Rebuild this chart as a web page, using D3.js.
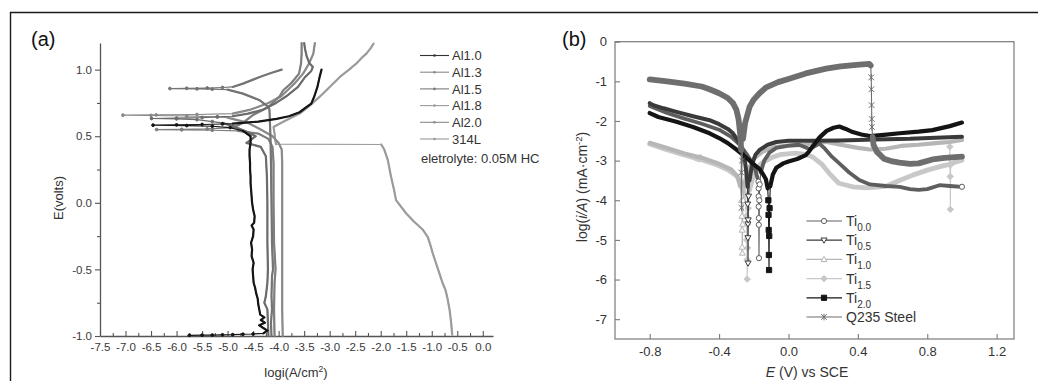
<!DOCTYPE html>
<html>
<head>
<meta charset="utf-8">
<script src="https://cdn.jsdelivr.net/npm/d3@7"></script>
<style>
  html, body { margin: 0; padding: 0; background: #fff; }
  svg { display: block; font-family: "Liberation Sans", Arial, sans-serif; }
</style>
</head>
<body>
<svg id="fig" width="1038" height="381"></svg>
<script>
// Every sweep below is split into runs that alternate: a dense measured run (even index),
// then a sparse excursion (odd index) such as a current spike, a jump or the dip at Ecorr.

// ===================== Panel (a): Al alloys and 314L in 0.05M HCl =====================
// Points are [E (V), log i (A/cm^2)], E increasing.
const aNames = ["Al1.0", "Al1.3", "Al1.5", "Al1.8", "Al2.0", "314L"];
const aXTicks = [-7.5, -7.0, -6.5, -6.0, -5.5, -5.0, -4.5, -4.0, -3.5, -3.0, -2.5, -2.0, -1.5, -1.0, -0.5, 0.0];
const aYTicks = [-1.0, -0.5, 0.0, 0.5, 1.0];
const aNote = "eletrolyte: 0.05M HC";

const al10Foot = [[-0.995, -5.75], [-0.994, -5.5], [-0.993, -5.3], [-0.991, -5.1], [-0.99, -4.9], [-0.987, -4.7], [-0.985, -4.5]];
const al10Passive = [
  [-0.98, -4.3], [-0.96, -4.22], [-0.94, -4.3], [-0.92, -4.38], [-0.9, -4.27], [-0.88, -4.35], [-0.86, -4.28],
  [-0.84, -4.36], [-0.8, -4.38], [-0.76, -4.4], [-0.72, -4.41], [-0.68, -4.44], [-0.64, -4.46], [-0.6, -4.49],
  [-0.55, -4.5], [-0.5, -4.51], [-0.45, -4.49], [-0.4, -4.53], [-0.35, -4.52], [-0.3, -4.54], [-0.25, -4.5],
  [-0.2, -4.49], [-0.17, -4.53], [-0.15, -4.48], [-0.1, -4.47], [-0.05, -4.5], [0.0, -4.52], [0.05, -4.53],
  [0.1, -4.54], [0.15, -4.55], [0.2, -4.55], [0.25, -4.56], [0.3, -4.56], [0.35, -4.57], [0.4, -4.57],
  [0.45, -4.55], [0.5, -4.55], [0.54, -4.7]
];
const al10Spike = [[0.565, -4.95], [0.575, -5.3], [0.58, -5.8], [0.583, -6.46], [0.585, -6.0], [0.588, -5.5], [0.592, -5.1]];
const al10Upper = [
  [0.595, -4.9], [0.61, -4.4], [0.63, -4.04], [0.65, -3.8], [0.68, -3.59], [0.72, -3.45], [0.745, -3.36],
  [0.8, -3.3], [0.87, -3.24], [0.94, -3.2], [1.0, -3.16]
];

const al13Passive = [
  [-1.0, -4.2], [-0.9, -4.21], [-0.8, -4.22], [-0.75, -4.28], [-0.7, -4.25], [-0.6, -4.22], [-0.5, -4.21],
  [-0.3, -4.22], [0.0, -4.22], [0.2, -4.23], [0.35, -4.25], [0.42, -4.35], [0.45, -4.63], [0.47, -4.55],
  [0.5, -4.45], [0.53, -4.6], [0.57, -4.85], [0.6, -5.1]
];
const al13Spike = [[0.61, -5.3], [0.625, -5.6], [0.63, -6.0], [0.633, -6.49], [0.636, -6.0], [0.64, -5.5], [0.645, -5.2]];
const al13Upper = [
  [0.65, -4.9], [0.67, -4.6], [0.7, -4.3], [0.75, -4.05], [0.8, -3.85], [0.87, -3.62], [0.945, -3.48],
  [0.99, -3.36], [1.02, -3.33], [1.05, -3.4], [1.1, -3.45], [1.15, -3.48], [1.2, -3.5]
];

const al15Passive = [
  [-1.0, -4.14], [-0.9, -4.15], [-0.8, -4.13], [-0.7, -4.14], [-0.55, -4.13], [-0.5, -4.11], [-0.3, -4.13],
  [0.0, -4.14], [0.3, -4.15], [0.5, -4.16], [0.6, -4.17], [0.7, -4.18], [0.72, -4.2], [0.77, -4.37],
  [0.82, -4.7], [0.85, -5.0]
];
const al15Spike = [[0.853, -5.3], [0.856, -5.6], [0.858, -6.13], [0.86, -5.8], [0.862, -5.4], [0.866, -5.1]];
const al15Upper = [[0.87, -4.9], [0.895, -4.7], [0.945, -4.37], [0.975, -4.15], [1.0, -3.94]];

const al18Passive = [
  [-1.0, -4.08], [-0.8, -4.09], [-0.6, -4.08], [-0.5, -4.06], [-0.3, -4.09], [0.0, -4.1], [0.3, -4.1],
  [0.42, -4.12], [0.48, -4.2], [0.52, -4.4], [0.54, -4.8]
];
const al18Spike = [[0.545, -5.3], [0.548, -5.9], [0.55, -6.39], [0.552, -5.9], [0.555, -5.4]];
const al18Upper = [
  [0.565, -4.9], [0.6, -4.7], [0.66, -4.5], [0.72, -4.2], [0.8, -3.98], [0.845, -3.91], [0.9, -3.75],
  [0.97, -3.6], [1.05, -3.56], [1.12, -3.55], [1.2, -3.55]
];

const al20Passive = [
  [-1.0, -3.92], [-0.8, -3.93], [-0.5, -3.93], [0.0, -3.93], [0.3, -3.93], [0.4, -3.94], [0.45, -4.0],
  [0.5, -4.12], [0.55, -4.35], [0.6, -4.6], [0.64, -5.0]
];
const al20Spike = [[0.645, -5.2], [0.652, -5.8], [0.656, -6.5], [0.658, -7.05], [0.66, -6.4], [0.663, -5.6]];
const al20Upper = [
  [0.67, -4.9], [0.7, -4.55], [0.75, -4.2], [0.8, -3.95], [0.9, -3.68], [0.97, -3.52], [1.05, -3.4],
  [1.12, -3.32], [1.2, -3.29]
];

const ss314Active = [
  [-0.99, -0.6], [-0.9, -0.62], [-0.805, -0.65], [-0.72, -0.69], [-0.655, -0.73], [-0.6, -0.79],
  [-0.53, -0.85], [-0.45, -0.92], [-0.38, -0.98], [-0.3, -1.04], [-0.255, -1.08], [-0.2, -1.18],
  [-0.14, -1.35], [-0.08, -1.5], [0.02, -1.7], [0.1, -1.74], [0.2, -1.8], [0.32, -1.86], [0.4, -1.93],
  [0.438, -1.99]
];
const ss314Jump = [];
const ss314Upper = [
  [0.44, -4.05], [0.48, -4.07], [0.52, -4.08], [0.57, -4.1], [0.61, -3.9], [0.67, -3.59], [0.72, -3.42],
  [0.795, -3.2], [0.87, -3.0], [0.945, -2.8], [1.0, -2.62], [1.045, -2.48], [1.09, -2.37], [1.12, -2.28],
  [1.16, -2.2], [1.196, -2.14]
];

// ===================== Panel (b): Ti additions vs Q235 steel =====================
// Points are [E (V vs SCE), log(i/A)].
const bXTicks = [-0.8, -0.4, 0.0, 0.4, 0.8, 1.2];
const bYTicks = [0, -1, -2, -3, -4, -5, -6, -7];

const ti00Cathodic = [[-0.8, -1.62], [-0.75, -1.71], [-0.7, -1.8], [-0.6, -1.94], [-0.5, -2.07], [-0.4, -2.22],
  [-0.33, -2.4], [-0.28, -2.6], [-0.24, -2.84], [-0.21, -3.05], [-0.19, -3.25], [-0.178, -3.45]];
const ti00Dip = [[-0.173, -3.53], [-0.172, -3.7], [-0.172, -3.9], [-0.172, -4.16], [-0.171, -4.45],
  [-0.171, -4.62], [-0.17, -5.46], [-0.168, -4.0], [-0.166, -3.6]];
const ti00Anodic = [[-0.16, -3.3], [-0.14, -3.0], [-0.11, -2.8], [-0.07, -2.68], [0.0, -2.62], [0.06, -2.6],
  [0.1, -2.67], [0.121, -2.71], [0.15, -2.64], [0.178, -2.57], [0.21, -2.7], [0.25, -2.9], [0.293, -3.07],
  [0.35, -3.3], [0.408, -3.49], [0.47, -3.6], [0.562, -3.64], [0.64, -3.66], [0.7, -3.72], [0.75, -3.74],
  [0.8, -3.72], [0.87, -3.62], [0.93, -3.64], [1.0, -3.66]];
const ti00End = [[1.0, -3.66]];

const ti05Cathodic = [[-0.8, -1.55], [-0.78, -1.6], [-0.72, -1.68], [-0.646, -1.77], [-0.55, -1.88], [-0.455, -1.98],
  [-0.4, -2.08], [-0.35, -2.2], [-0.32, -2.31], [-0.29, -2.5], [-0.265, -2.75], [-0.25, -3.05], [-0.24, -3.4], [-0.236, -3.66]];
const ti05Dip = [[-0.235, -4.1], [-0.234, -4.6], [-0.234, -4.95], [-0.233, -5.59], [-0.232, -4.5], [-0.23, -3.9]];
const ti05Anodic = [[-0.225, -3.5], [-0.21, -3.1], [-0.19, -2.85], [-0.167, -2.73], [-0.12, -2.6], [-0.07, -2.53],
  [0.0, -2.5], [0.12, -2.5], [0.3, -2.49], [0.5, -2.47], [0.7, -2.45], [0.85, -2.42], [1.0, -2.4]];

const ti10Cathodic = [[-0.8, -2.55], [-0.7, -2.68], [-0.6, -2.82], [-0.5, -2.93], [-0.4, -3.08], [-0.33, -3.22],
  [-0.295, -3.4], [-0.278, -3.65]];
const ti10Dip = [[-0.27, -4.0], [-0.268, -4.4], [-0.267, -4.75], [-0.267, -5.18], [-0.266, -5.33], [-0.264, -4.6], [-0.262, -4.0]];
const ti10Anodic = [[-0.255, -3.6], [-0.235, -3.25], [-0.2, -2.95], [-0.15, -2.78], [-0.08, -2.66], [0.0, -2.62],
  [0.1, -2.6], [0.18, -2.55], [0.22, -2.53], [0.3, -2.6], [0.4, -2.68], [0.47, -2.72], [0.56, -2.7], [0.65, -2.63],
  [0.75, -2.6], [0.85, -2.56], [0.93, -2.53], [1.0, -2.48]];

const ti15Cathodic = [[-0.8, -2.58], [-0.72, -2.7], [-0.63, -2.82], [-0.55, -2.92], [-0.515, -2.98], [-0.51, -2.9],
  [-0.5, -2.98], [-0.45, -3.05], [-0.4, -3.13], [-0.35, -3.23], [-0.3, -3.38], [-0.265, -3.6], [-0.248, -3.9]];
const ti15Dip = [[-0.243, -4.4], [-0.241, -5.0], [-0.239, -5.5], [-0.238, -5.99], [-0.236, -5.2], [-0.234, -4.6], [-0.232, -4.2]];
const ti15Anodic = [[-0.225, -3.75], [-0.2, -3.35], [-0.16, -3.08], [-0.1, -2.93], [-0.05, -2.85], [0.04, -2.81],
  [0.1, -2.84], [0.14, -2.91], [0.19, -3.08], [0.235, -3.32], [0.29, -3.57], [0.37, -3.66], [0.45, -3.69],
  [0.56, -3.65], [0.64, -3.5], [0.72, -3.36], [0.8, -3.24], [0.9, -3.12], [0.928, -3.1]];
const ti15Glitch = [[0.93, -2.65], [0.931, -3.1], [0.932, -3.4], [0.933, -4.23], [0.935, -3.1]];
const ti15Tail = [[0.94, -3.07], [0.97, -3.03], [1.0, -2.99]];

const ti20Cathodic = [[-0.8, -1.8], [-0.75, -1.9], [-0.646, -2.02], [-0.55, -2.15], [-0.455, -2.31], [-0.4, -2.43],
  [-0.35, -2.56], [-0.3, -2.72], [-0.25, -2.9], [-0.206, -3.07], [-0.17, -3.2], [-0.15, -3.32], [-0.13, -3.47], [-0.12, -3.7]];
const ti20Dip = [[-0.116, -4.0], [-0.115, -4.37], [-0.114, -4.75], [-0.113, -5.38], [-0.112, -5.76], [-0.111, -4.9], [-0.109, -4.2]];
const ti20Anodic = [[-0.105, -3.65], [-0.09, -3.35], [-0.07, -3.18], [-0.03, -3.07], [0.0, -3.02], [0.05, -2.96],
  [0.1, -2.86], [0.12, -2.76], [0.15, -2.58], [0.178, -2.42], [0.22, -2.25], [0.26, -2.17], [0.293, -2.14],
  [0.33, -2.2], [0.37, -2.28], [0.42, -2.34], [0.47, -2.38], [0.55, -2.35], [0.64, -2.31], [0.75, -2.27],
  [0.83, -2.23], [0.93, -2.13], [1.0, -2.04]];

const q235Cathodic = [[-0.8, -0.95], [-0.7, -1.0], [-0.6, -1.06], [-0.5, -1.13], [-0.455, -1.2], [-0.4, -1.3],
  [-0.35, -1.42], [-0.32, -1.55], [-0.3, -1.72], [-0.288, -1.95], [-0.279, -2.3], [-0.273, -2.73]];
const q235Dip = [[-0.272, -3.3], [-0.271, -4.19], [-0.268, -3.0]];
const q235Anodic = [[-0.262, -2.45], [-0.25, -2.05], [-0.224, -1.64], [-0.2, -1.46], [-0.167, -1.3], [-0.128, -1.15],
  [-0.06, -1.02], [0.0, -0.94], [0.1, -0.8], [0.217, -0.68], [0.3, -0.62], [0.408, -0.58], [0.466, -0.56], [0.474, -0.6]];
const q235Drop = [[0.477, -0.9], [0.478, -1.2], [0.479, -1.6], [0.48, -1.95], [0.481, -2.15]];
const q235Passive = [[0.485, -2.4], [0.49, -2.6], [0.51, -2.78], [0.55, -2.95], [0.6, -3.02], [0.64, -3.05],
  [0.7, -3.08], [0.75, -3.07], [0.83, -2.97], [0.9, -2.93], [1.0, -2.9]];

// ===================== Drawing =====================
const svg = d3.select("#fig");

// outer frame
svg.append("path")
  .attr("d", "M10.5,381 V12.5 H1038")
  .attr("fill", "none").attr("stroke", "#1a1a1a").attr("stroke-width", 1.4);

// draws one sweep: thin trace through all points, heavy trace on dense runs, markers on sparse runs
function drawSweep(g, runs, line, pos, style) {
  const all = runs.flat();
  g.append("path").attr("d", line(all)).attr("fill", "none")
    .attr("stroke", style.color).attr("stroke-width", style.thin);
  runs.forEach((run, i) => {
    if (i % 2 === 0 && run.length > 1) {
      g.append("path").attr("d", line(run)).attr("fill", "none")
        .attr("stroke", style.color).attr("stroke-width", style.width)
        .attr("stroke-linejoin", "round").attr("stroke-linecap", "round");
    }
  });
  runs.forEach((run, i) => {
    if (i % 2 === 1 && run.length) {
      g.selectAll(null).data(run).join("path")
        .attr("transform", d => `translate(${pos(d)})`)
        .attr("d", style.marker)
        .attr("fill", style.fill).attr("stroke", style.color).attr("stroke-width", 1);
    }
  });
}

// ---------- panel (a) ----------
const xA = d3.scaleLinear().domain([-7.5, 0.2]).range([100, 493]);
const yA = d3.scaleLinear().domain([-1.0, 1.2]).range([336, 43]);
const fmt1 = d => d.toFixed(1);

const gA = svg.append("g");
const aYMinor = [-0.75, -0.25, 0.25, 0.75];
const aXMinor = aXTicks.slice(0, -1).map(v => v + 0.25);

gA.append("g").attr("transform", "translate(100,0)")
  .call(d3.axisLeft(yA).tickValues(aYTicks).tickFormat(fmt1).tickSizeInner(5).tickSizeOuter(0).tickPadding(3));
gA.append("g").attr("transform", "translate(100,0)")
  .call(d3.axisLeft(yA).tickValues(aYMinor).tickFormat("").tickSizeInner(3).tickSizeOuter(0))
  .select(".domain").remove();
gA.append("g").attr("transform", "translate(0,336)")
  .call(d3.axisBottom(xA).tickValues(aXTicks).tickFormat(fmt1).tickSizeInner(-5).tickSizeOuter(0).tickPadding(7));
gA.append("g").attr("transform", "translate(0,336)")
  .call(d3.axisBottom(xA).tickValues(aXMinor).tickFormat("").tickSizeInner(-3).tickSizeOuter(0))
  .select(".domain").remove();

gA.selectAll(".domain").attr("stroke", "#555").attr("stroke-width", 1.3);
gA.selectAll(".tick line").attr("stroke", "#555").attr("stroke-width", 1.1);
gA.selectAll(".tick text").attr("fill", "#3a3a3a").style("font-size", "11.5px");

gA.append("text").attr("transform", "translate(63,198) rotate(-90)")
  .attr("text-anchor", "middle").attr("fill", "#333").style("font-size", "13px").text("E(volts)");
const xtA = gA.append("text").attr("x", 296).attr("y", 377).attr("text-anchor", "middle")
  .attr("fill", "#333").style("font-size", "13px");
xtA.append("tspan").text("logi(A/cm");
xtA.append("tspan").attr("dy", -5).style("font-size", "8.5px").text("2");
xtA.append("tspan").attr("dy", 5).text(")");

const dot = "M1.4,0 A1.4,1.4 0 1,1 -1.4,0 A1.4,1.4 0 1,1 1.4,0 Z";
const aSeries = [
  { runs: [ss314Active, ss314Jump, ss314Upper], color: "#9c9c9c" },
  { runs: [al20Passive, al20Spike, al20Upper], color: "#8a8a8a" },
  { runs: [al18Passive, al18Spike, al18Upper], color: "#7e7e7e" },
  { runs: [al15Passive, al15Spike, al15Upper], color: "#747474" },
  { runs: [al13Passive, al13Spike, al13Upper], color: "#6c6c6c" },
  { runs: [[], al10Foot, al10Passive, al10Spike, al10Upper], color: "#151515" }
];
const lineA = d3.line().x(d => xA(d[1])).y(d => yA(d[0]));
aSeries.forEach(s => {
  drawSweep(gA.append("g"), s.runs, lineA, d => [xA(d[1]), yA(d[0])],
    { color: s.color, thin: 1.2, width: 2.2, marker: dot, fill: s.color });
});

// legend (a)
const aLegendColors = ["#333", "#8a8a8a", "#7a7a7a", "#9a9a9a", "#8a8a8a", "#9a9a9a"];
aNames.forEach((name, i) => {
  const y = 55.5 + i * 16.7;
  gA.append("line").attr("x1", 420).attr("x2", 449).attr("y1", y).attr("y2", y)
    .attr("stroke", aLegendColors[i]).attr("stroke-width", 1.1);
  gA.append("circle").attr("cx", 434.5).attr("cy", y).attr("r", 1.3).attr("fill", aLegendColors[i]);
  gA.append("text").attr("x", 452).attr("y", y + 4.6).attr("fill", "#333")
    .style("font-size", "13px").text(name);
});
gA.append("text").attr("x", 421).attr("y", 163).attr("fill", "#333")
  .style("font-size", "13px").text(aNote);

svg.append("text").attr("x", 31).attr("y", 46).attr("fill", "#111")
  .style("font-size", "20px").text("(a)");

// ---------- panel (b) ----------
const xB = d3.scaleLinear().domain([-1.0, 1.3]).range([615, 1014]);
const yB = d3.scaleLinear().domain([-7.5, 0]).range([339, 41.7]);
const gB = svg.append("g");

gB.append("rect").attr("x", 615).attr("y", 41.7).attr("width", 399).attr("height", 297.3)
  .attr("fill", "none").attr("stroke", "#7a7a7a").attr("stroke-width", 1.2);

gB.append("g").attr("transform", "translate(0,339)")
  .call(d3.axisBottom(xB).tickValues(bXTicks).tickFormat(fmt1).tickSizeInner(-5).tickSizeOuter(0).tickPadding(8));
gB.append("g").attr("transform", "translate(615,0)")
  .call(d3.axisLeft(yB).tickValues(bYTicks).tickFormat(d => String(d)).tickSizeInner(-5).tickSizeOuter(0).tickPadding(8));
gB.selectAll(".domain").remove();
gB.selectAll(".tick line").attr("stroke", "#7a7a7a").attr("stroke-width", 1.1);
gB.selectAll(".tick text").attr("fill", "#333").style("font-size", "13px");

const ytB = gB.append("text").attr("transform", "translate(587,187) rotate(-90)")
  .attr("text-anchor", "middle").attr("fill", "#333").style("font-size", "14px");
ytB.append("tspan").text("log(");
ytB.append("tspan").style("font-style", "italic").text("i/A");
ytB.append("tspan").text(") (mA\u00b7cm");
ytB.append("tspan").attr("dy", -5).style("font-size", "9.5px").text("-2");
ytB.append("tspan").attr("dy", 5).text(")");

const xtB = gB.append("text").attr("x", 807).attr("y", 377).attr("text-anchor", "middle")
  .attr("fill", "#333").style("font-size", "14px");
xtB.append("tspan").style("font-style", "italic").text("E");
xtB.append("tspan").text(" (V) vs SCE");

const markerPaths = {
  circle: "M2.6,0 A2.6,2.6 0 1,1 -2.6,0 A2.6,2.6 0 1,1 2.6,0 Z",
  triDown: "M-3,-2.2 L3,-2.2 L0,3 Z",
  triUp: "M-3,2.2 L3,2.2 L0,-3 Z",
  diamond: "M0,-3.2 L3.2,0 L0,3.2 L-3.2,0 Z",
  square: "M-2.6,-2.6 H2.6 V2.6 H-2.6 Z",
  star: "M-2.8,-2.8 L2.8,2.8 M-2.8,2.8 L2.8,-2.8 M0,-3.4 V3.4"
};

const bSeries = [
  { sub: "1.5", runs: [ti15Cathodic, ti15Dip, ti15Anodic, ti15Glitch, ti15Tail], color: "#c8c8c8", width: 4.8, marker: "diamond", fill: "#c8c8c8" },
  { sub: "1.0", runs: [ti10Cathodic, ti10Dip, ti10Anodic], color: "#b6b6b6", width: 4.2, marker: "triUp", fill: "#fff" },
  { sub: "0.0", runs: [ti00Cathodic, ti00Dip, ti00Anodic, ti00End], color: "#5e5e5e", width: 3.8, marker: "circle", fill: "#fff" },
  { sub: "0.5", runs: [ti05Cathodic, ti05Dip, ti05Anodic], color: "#3a3a3a", width: 4, marker: "triDown", fill: "#fff" },
  { sub: "2.0", runs: [ti20Cathodic, ti20Dip, ti20Anodic], color: "#141414", width: 4.2, marker: "square", fill: "#141414" },
  { name: "Q235 Steel", runs: [q235Cathodic, q235Dip, q235Anodic, q235Drop, q235Passive], color: "#6e6e6e", width: 5.8, marker: "star", fill: "none" }
];

const lineB = d3.line().x(d => xB(d[0])).y(d => yB(d[1]));
bSeries.forEach(s => {
  drawSweep(gB.append("g"), s.runs, lineB, d => [xB(d[0]), yB(d[1])],
    { color: s.color, thin: 1.1, width: s.width, marker: markerPaths[s.marker], fill: s.fill });
});

// legend (b), in the original order
const bLegend = [bSeries[2], bSeries[3], bSeries[1], bSeries[0], bSeries[4], bSeries[5]];
const bLegendRows = [221, 240.2, 259.4, 278.6, 297.8, 317];
bLegend.forEach((s, i) => {
  const y = bLegendRows[i];
  gB.append("line").attr("x1", 806.5).attr("x2", 842).attr("y1", y).attr("y2", y)
    .attr("stroke", s.color).attr("stroke-width", 1.2);
  gB.append("path").attr("transform", `translate(824,${y})`).attr("d", markerPaths[s.marker])
    .attr("fill", s.fill).attr("stroke", s.color).attr("stroke-width", 1);
  const t = gB.append("text").attr("x", 846).attr("y", y + 5).attr("fill", "#333").style("font-size", "14px");
  if (s.name) {
    t.text(s.name);
  } else {
    t.append("tspan").text("Ti");
    t.append("tspan").attr("dy", 5).style("font-size", "10px").text(s.sub);
  }
});

svg.append("text").attr("x", 562).attr("y", 46).attr("fill", "#111")
  .style("font-size", "20px").text("(b)");
</script>
</body>
</html>
